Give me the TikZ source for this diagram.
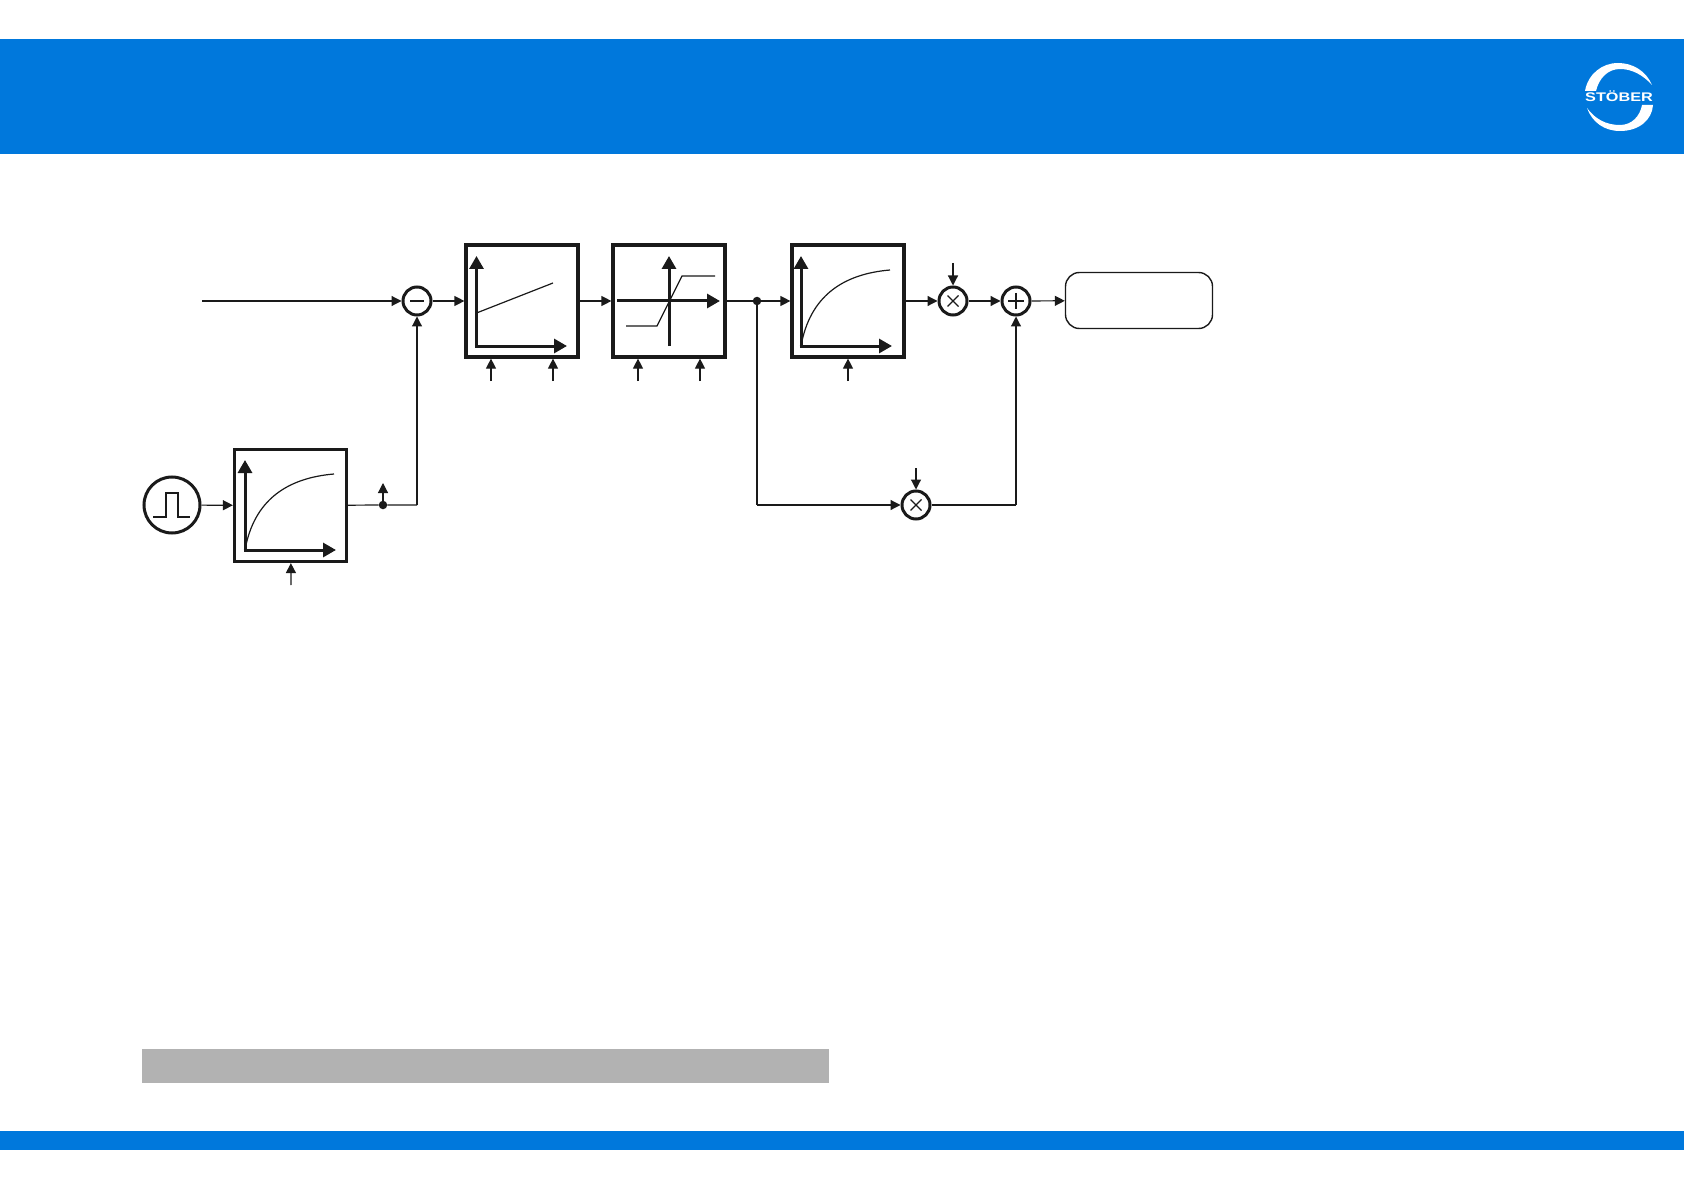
\documentclass[tikz,border=0pt]{standalone}
\usepackage{fontspec}
\setsansfont{Liberation Sans}
\usepackage{tikz}
\usetikzlibrary{arrows.meta}
\definecolor{stoberblue}{HTML}{0078DC}
\definecolor{barfill}{HTML}{B2B2B2}
\definecolor{ink}{HTML}{1A1A1A}
\tikzset{
  signal/.style={-{Triangle[length=10,width=10]},line width=1.2pt,ink},
  plainline/.style={line width=1.2pt,ink},
  axis/.style={-{Triangle[length=13,width=14]},line width=3pt,ink},
  curve/.style={line width=1.2pt,ink},
  blockbox/.style={draw=ink,line width=3.2pt,fill=white,minimum size=112pt,inner sep=0pt},
  sumcircle/.style={circle,draw=ink,line width=3pt,minimum size=28pt,inner sep=0pt},
  dotnode/.style={circle,fill=ink,minimum size=8.5pt,inner sep=0pt}
}

\begin{document}
\begin{tikzpicture}[x=1pt,y=-1pt]
    \useasboundingbox (0,0) rectangle (1684,1190);
    \fill[stoberblue] (0,39) rectangle (1684,154);
    \fill[stoberblue] (0,1131) rectangle (1684,1150);
    \fill[barfill] (142,1049) rectangle (829,1083);
    % logo
    \fill[white] (1585,91) .. controls (1588,74) and (1602,63) .. (1618,63) .. controls (1633,63) and (1646,71) .. (1652,85)
      .. controls (1643,75) and (1632,69) .. (1620,69) .. controls (1608,69) and (1599,78) .. (1596,91) -- cycle;
    \fill[white] (1587,108) .. controls (1592,122) and (1604,131) .. (1620,131) .. controls (1639,131) and (1652,120) .. (1653,105)
      -- (1642,105) .. controls (1640,116) and (1632,125) .. (1620,125) .. controls (1606,125) and (1595,119) .. (1587,108);
    \node[white,font=\sffamily\bfseries\fontsize{12.5}{14}\selectfont,xscale=1.3,anchor=base,inner sep=0pt] (logo) at (1619,101.5) {STÖBER};
    % blocks
    \node[circle,draw=ink,line width=3pt,minimum size=56pt,inner sep=0pt] (pulse) at (172,505) {};
    \node[blockbox] (filterin) at (290.5,505.5) {};
    \node[sumcircle] (diff) at (417,301) {};
    \node[blockbox] (picontrol) at (522,301) {};
    \node[blockbox] (limiter) at (669,301) {};
    \node[blockbox] (filterout) at (848,301) {};
    \node[sumcircle] (multa) at (953,301) {};
    \node[sumcircle] (addout) at (1016,301) {};
    \node[sumcircle] (multb) at (916,505) {};
    \node[draw=ink,line width=1.4pt,rounded corners=14pt,minimum width=147pt,minimum height=56pt] (output) at (1139,300.5) {};
    \node[dotnode] (branch) at (757,301) {};
    \node[dotnode] (tap) at (383,505) {};
    \coordinate (setin) at (202,301);
    \coordinate (tapend) at (383,483);
    \coordinate (corner) at (417,505);
    \coordinate (down) at (757,505);
    \coordinate (rise) at (1016,505);
    % signal path
    \draw[signal] (setin) -- (diff);
    \draw[signal] (diff) -- (picontrol);
    \draw[signal] (picontrol) -- (limiter);
    \draw[plainline] (limiter) -- (branch);
    \draw[signal] (branch) -- (filterout);
    \draw[signal] (filterout) -- (multa);
    \draw[signal] (multa) -- (addout);
    \draw[signal] (addout) -- (output);
    \draw[signal] (pulse) -- (filterin);
    \draw[plainline] (filterin) -- (tap) -- (corner);
    \draw[signal] (corner) -- (diff);
    \draw[signal] (tap) -- (tapend);
    \draw[plainline] (branch) -- (down);
    \draw[signal] (down) -- (multb);
    \draw[plainline] (multb) -- (rise);
    \draw[signal] (rise) -- (addout);
    % parameter inputs
    \foreach \name/\x in {picontrol/491,picontrol/553,limiter/638,limiter/700,filterout/848}
      \draw[signal] (\x,381) -- (\name.south -| \x,0);
    \draw[signal] (291,585) -- (filterin);
    \draw[signal] (953,263) -- (multa);
    \draw[signal] (916,468) -- (multb);
    % graphs
    \foreach \ox/\oy in {245/550,801/346} {
      \draw[axis] (\ox,\oy)--(\ox,\oy-90);
      \draw[axis] (\ox-1.5,\oy)--(\ox+91,\oy);
      \draw[curve] (\ox,\oy) .. controls (\ox+9,\oy-50) and (\ox+42,\oy-72) .. (\ox+89,\oy-76);
    }
    \draw[axis] (476.5,346)--(476.5,256);
    \draw[axis] (475,346)--(567,346);
    \draw[curve] (476.5,313)--(553,283);
    \draw[axis] (617,301)--(720,301);
    \draw[axis] (669,346)--(669,256);
    \draw[curve] (626,326)--(657,326)--(682,276)--(715,276);
    % symbols
    \draw[curve,line width=1.4pt] (153,517)--(166,517)--(166,493)--(178,493)--(178,517)--(190,517);
    \draw[curve] (410,301)--(424,301);
    \draw[curve] (1016,293)--(1016,309) (1008,301)--(1024,301);
    \foreach \cx/\cy in {953/301,916/505}
      \draw[curve] (\cx-5.5,\cy-5.5)--(\cx+5.5,\cy+5.5) (\cx-5.5,\cy+5.5)--(\cx+5.5,\cy-5.5);
\end{tikzpicture}
\end{document}
